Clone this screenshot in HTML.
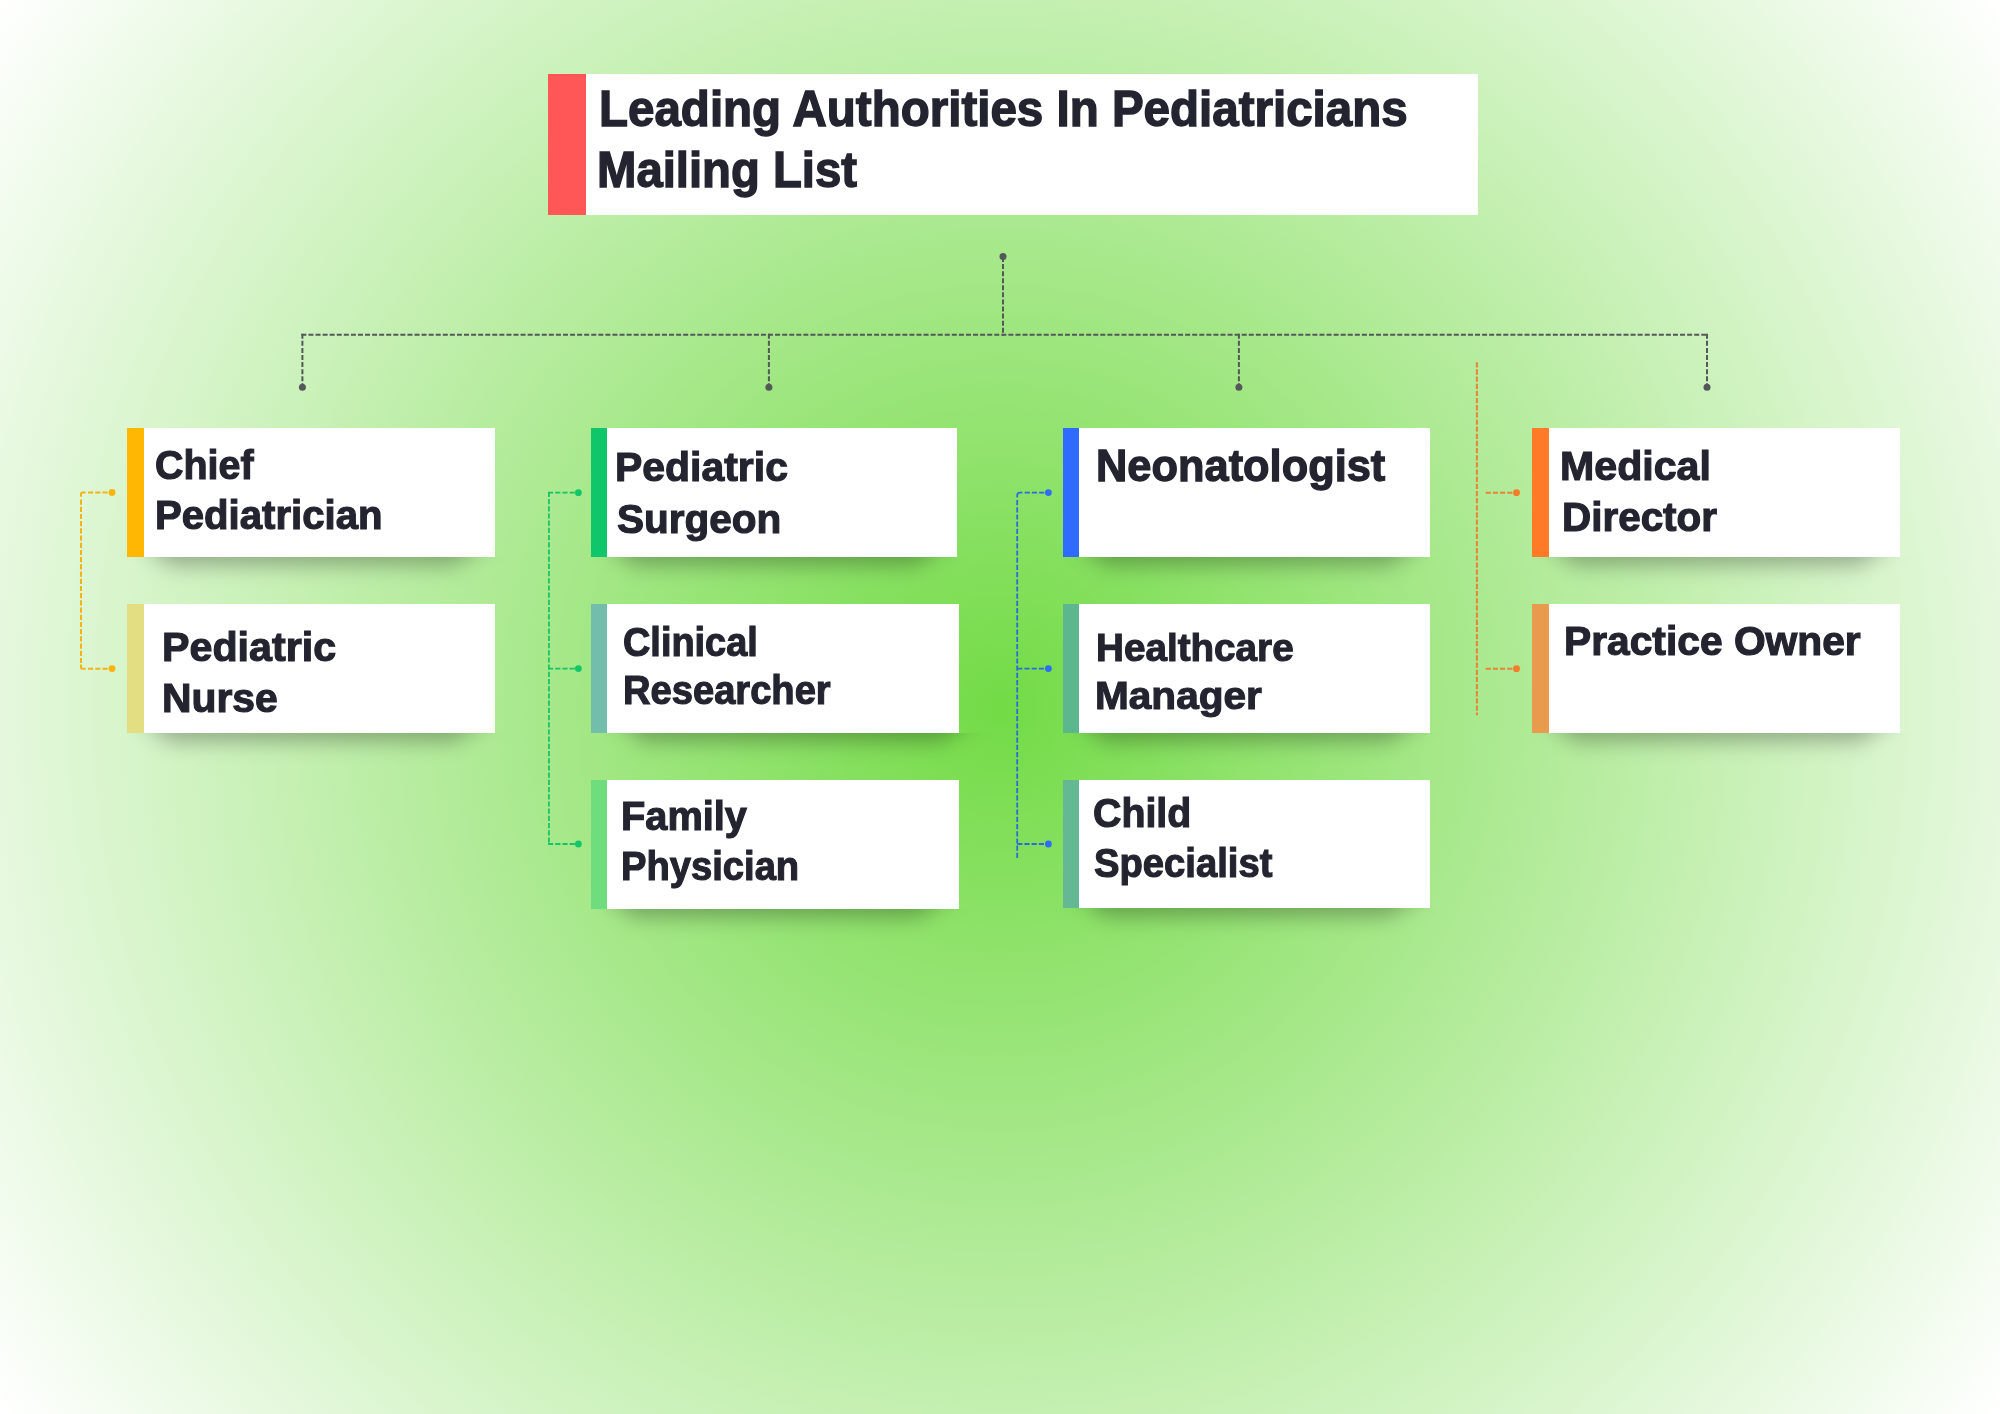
<!DOCTYPE html><html><head><meta charset='utf-8'><title>Leading Authorities In Pediatricians Mailing List</title><style>
html,body{margin:0;padding:0}
body{width:2000px;height:1414px;position:relative;overflow:hidden;
 background:radial-gradient(circle farthest-corner at 1000px 707px,#73db46 0%,#ffffff 100%);
 font-family:"Liberation Sans",sans-serif;}
.bx{position:absolute;background:#fff}
.bar{position:absolute;left:0;top:0;bottom:0}
.shc{position:absolute;height:46px;overflow:hidden}
.shb{position:absolute;left:0;top:-40px;width:100%;height:90px;filter:blur(10.5px)}
.shp{position:absolute;left:0;top:0;width:100%;height:100%;background:rgba(0,0,0,.30)}
.t{position:absolute;white-space:nowrap;font-weight:700;line-height:1;color:#23242f;transform-origin:0 0}
svg{position:absolute;left:0;top:0}
</style></head><body>
<div class='shc' style='left:87.0px;width:468.0px;top:557.0px'><div class='shb'><div class='shp' style='clip-path:polygon(49.0px 20px,409.0px 20px,367.0px 48px,82.6px 48px)'></div></div></div>
<div class='shc' style='left:87.0px;width:468.0px;top:733.0px'><div class='shb'><div class='shp' style='clip-path:polygon(49.0px 20px,409.0px 20px,367.0px 48px,82.6px 48px)'></div></div></div>
<div class='shc' style='left:551.0px;width:466.0px;top:557.0px'><div class='shb'><div class='shp' style='clip-path:polygon(49.0px 20px,407.0px 20px,365.0px 48px,82.6px 48px)'></div></div></div>
<div class='shc' style='left:551.0px;width:468.0px;top:733.0px'><div class='shb'><div class='shp' style='clip-path:polygon(59.0px 20px,431.0px 20px,389.0px 48px,92.6px 48px)'></div></div></div>
<div class='shc' style='left:551.0px;width:468.0px;top:908.5px'><div class='shb'><div class='shp' style='clip-path:polygon(49.0px 20px,409.0px 20px,367.0px 48px,82.6px 48px)'></div></div></div>
<div class='shc' style='left:1022.5px;width:467.9px;top:557.0px'><div class='shb'><div class='shp' style='clip-path:polygon(49.0px 20px,408.9px 20px,366.9px 48px,82.6px 48px)'></div></div></div>
<div class='shc' style='left:1022.5px;width:467.9px;top:733.0px'><div class='shb'><div class='shp' style='clip-path:polygon(49.0px 20px,408.9px 20px,366.9px 48px,82.6px 48px)'></div></div></div>
<div class='shc' style='left:1022.5px;width:467.9px;top:908.0px'><div class='shb'><div class='shp' style='clip-path:polygon(49.0px 20px,408.9px 20px,366.9px 48px,82.6px 48px)'></div></div></div>
<div class='shc' style='left:1492.4px;width:467.6px;top:557.0px'><div class='shb'><div class='shp' style='clip-path:polygon(49.0px 20px,408.6px 20px,366.6px 48px,82.6px 48px)'></div></div></div>
<div class='shc' style='left:1492.4px;width:467.6px;top:733.0px'><div class='shb'><div class='shp' style='clip-path:polygon(49.0px 20px,408.6px 20px,366.6px 48px,82.6px 48px)'></div></div></div>
<svg width='2000' height='1414' viewBox='0 0 2000 1414' fill='none' stroke-width='2' stroke-dasharray='5 2.07'><g stroke='#54585a'><path d='M1003 257V335.8'/><path d='M301.4 334.8H1708'/><path d='M302.4 333.8V386M768.9 333.8V386M1238.9 333.8V386M1707 333.8V386'/></g><circle cx='1003' cy='256.6' r='3.5' fill='#54585a'/><circle cx='302.4' cy='387.2' r='3.5' fill='#54585a'/><circle cx='768.9' cy='387.2' r='3.5' fill='#54585a'/><circle cx='1238.9' cy='387.2' r='3.5' fill='#54585a'/><circle cx='1707' cy='387.2' r='3.5' fill='#54585a'/><g stroke='#f2b31c' stroke-dasharray='5.2 2'><path stroke-dasharray='none' d='M81 496.8V494.1Q81 492.6 82.5 492.6H85.6M81 664.5V667.2Q81 668.7 82.5 668.7H85.6'/><path d='M88 492.6H110M81 499.5V664.6M88 668.7H110'/></g><circle cx='112' cy='492.5' r='3.4' fill='#fcb40c'/><circle cx='112' cy='668.6' r='3.4' fill='#fcb40c'/><g stroke='#18c266' stroke-width='1.8' stroke-dasharray='5.2 2'><path d='M548 492.7H576M548.9 491.8V844.9M548 668.6H576M548 844H576'/></g><circle cx='578.4' cy='492.7' r='3.4' fill='#13c66a'/><circle cx='578.4' cy='668.6' r='3.4' fill='#13c66a'/><circle cx='578.4' cy='844' r='3.4' fill='#13c66a'/><g stroke='#2a6dd8' stroke-width='1.8' stroke-dasharray='5.2 2'><path stroke-dasharray='none' d='M1017.2 497.6V495.2Q1017.2 492.6 1019.8 492.6H1022.4'/><path d='M1024.7 492.6H1046M1017.2 500V858.5M1017.2 668.6H1046M1017.2 844H1046'/></g><circle cx='1048.4' cy='492.6' r='3.4' fill='#2f6cf6'/><circle cx='1048.4' cy='668.6' r='3.4' fill='#2f6cf6'/><circle cx='1048.4' cy='844' r='3.4' fill='#2f6cf6'/><g stroke='#e8843a' stroke-dasharray='5.3 1.85'><path d='M1476.9 362.2V715.2'/><path stroke-dasharray='5.2 2' d='M1485.6 492.7H1515M1485.6 668.7H1515'/></g><circle cx='1516.5' cy='492.7' r='3.4' fill='#fb7a28'/><circle cx='1516.5' cy='668.7' r='3.4' fill='#fb7a28'/></svg>
<div class='bx' style='left:548px;top:74px;width:930.0px;height:141.0px'><div class='bar' style='width:37.5px;background:#ff5757'></div><div class='t' style='left:50.89px;top:10.43px;font-size:49.5px;-webkit-text-stroke:0.028em #23242f;transform:scaleX(0.9597)'>Leading Authorities In Pediatricians</div><div class='t' style='left:48.80px;top:71.43px;font-size:49.5px;-webkit-text-stroke:0.028em #23242f;transform:scaleX(0.9550)'>Mailing List</div></div>
<div class='bx' style='left:127px;top:428px;width:368.0px;height:129.0px'><div class='bar' style='width:16.5px;background:#ffb703'></div><div class='t' style='left:28.26px;top:16.11px;font-size:41.5px;-webkit-text-stroke:0.028em #23242f;transform:scaleX(0.9498)'>Chief</div><div class='t' style='left:28.29px;top:65.91px;font-size:41.5px;-webkit-text-stroke:0.028em #23242f;transform:scaleX(0.9669)'>Pediatrician</div></div>
<div class='bx' style='left:127px;top:604px;width:368.0px;height:129.0px'><div class='bar' style='width:16.5px;background:#e2de81'></div><div class='t' style='left:34.53px;top:21.81px;font-size:41.5px;-webkit-text-stroke:0.028em #23242f;transform:scaleX(0.9929)'>Pediatric</div><div class='t' style='left:34.55px;top:72.81px;font-size:41.5px;-webkit-text-stroke:0.028em #23242f;transform:scaleX(0.9839)'>Nurse</div></div>
<div class='bx' style='left:591px;top:428px;width:366.0px;height:129.0px'><div class='bar' style='width:16px;background:#10c66b'></div><div class='t' style='left:24.35px;top:17.81px;font-size:41.5px;-webkit-text-stroke:0.028em #23242f;transform:scaleX(0.9865)'>Pediatric</div><div class='t' style='left:25.74px;top:70.11px;font-size:41.5px;-webkit-text-stroke:0.028em #23242f;transform:scaleX(0.9762)'>Surgeon</div></div>
<div class='bx' style='left:591px;top:604px;width:368.0px;height:129.0px'><div class='bar' style='width:16px;background:#73bdac'></div><div class='t' style='left:32.15px;top:16.81px;font-size:41.5px;-webkit-text-stroke:0.028em #23242f;transform:scaleX(0.9132)'>Clinical</div><div class='t' style='left:32.05px;top:64.91px;font-size:41.5px;-webkit-text-stroke:0.028em #23242f;transform:scaleX(0.9185)'>Researcher</div></div>
<div class='bx' style='left:591px;top:780px;width:368.0px;height:128.5px'><div class='bar' style='width:16px;background:#6fdd7e'></div><div class='t' style='left:29.71px;top:15.21px;font-size:41.5px;-webkit-text-stroke:0.028em #23242f;transform:scaleX(0.9577)'>Family</div><div class='t' style='left:29.80px;top:64.81px;font-size:41.5px;-webkit-text-stroke:0.028em #23242f;transform:scaleX(0.9195)'>Physician</div></div>
<div class='bx' style='left:1062.5px;top:428px;width:367.9px;height:129.0px'><div class='bar' style='width:16.3px;background:#2f6bff'></div><div class='t' style='left:33.31px;top:15.27px;font-size:44.8px;-webkit-text-stroke:0.028em #23242f;transform:scaleX(0.9688)'>Neonatologist</div></div>
<div class='bx' style='left:1062.5px;top:604px;width:367.9px;height:129.0px'><div class='bar' style='width:16.3px;background:#5db78e'></div><div class='t' style='left:33.77px;top:24.03px;font-size:39.5px;-webkit-text-stroke:0.028em #23242f;transform:scaleX(0.9785)'>Healthcare</div><div class='t' style='left:32.57px;top:71.73px;font-size:39.5px;-webkit-text-stroke:0.028em #23242f;transform:scaleX(1.0270)'>Manager</div></div>
<div class='bx' style='left:1062.5px;top:780px;width:367.9px;height:128.0px'><div class='bar' style='width:16.3px;background:#64b894'></div><div class='t' style='left:30.27px;top:12.01px;font-size:41.5px;-webkit-text-stroke:0.028em #23242f;transform:scaleX(0.9475)'>Child</div><div class='t' style='left:31.03px;top:62.31px;font-size:41.5px;-webkit-text-stroke:0.028em #23242f;transform:scaleX(0.9209)'>Specialist</div></div>
<div class='bx' style='left:1532.4px;top:428px;width:367.6px;height:129.0px'><div class='bar' style='width:16.5px;background:#ff7a26'></div><div class='t' style='left:27.94px;top:17.01px;font-size:41.5px;-webkit-text-stroke:0.028em #23242f;transform:scaleX(0.9910)'>Medical</div><div class='t' style='left:29.58px;top:68.01px;font-size:41.5px;-webkit-text-stroke:0.028em #23242f;transform:scaleX(0.9741)'>Director</div></div>
<div class='bx' style='left:1532.4px;top:604px;width:367.6px;height:129.0px'><div class='bar' style='width:16.5px;background:#e89b4c'></div><div class='t' style='left:31.96px;top:15.91px;font-size:41.5px;-webkit-text-stroke:0.028em #23242f;transform:scaleX(0.9819)'>Practice Owner</div></div>
</body></html>
